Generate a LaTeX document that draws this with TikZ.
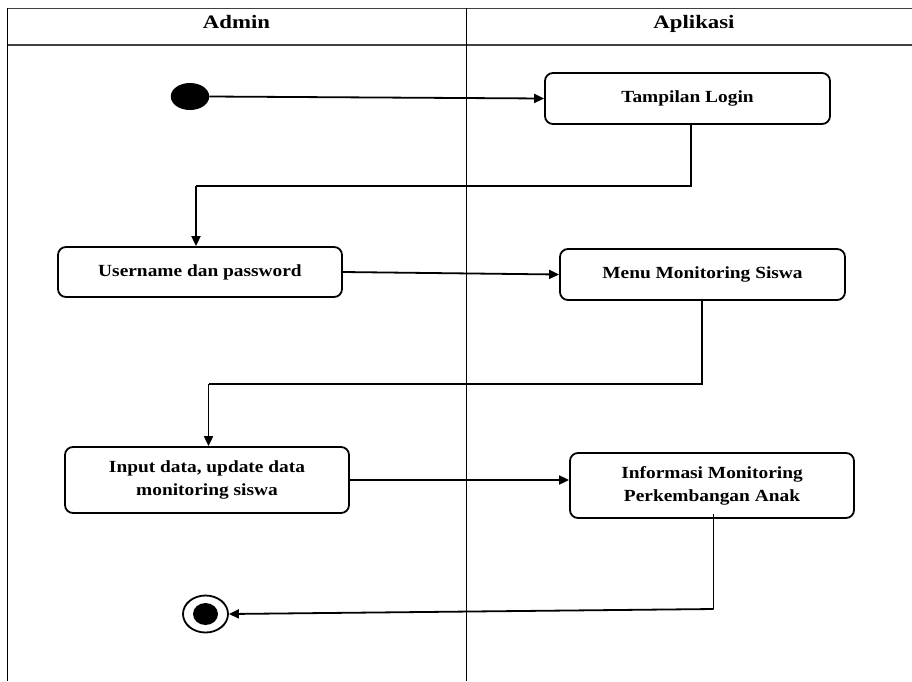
\documentclass[tikz,border=0pt]{standalone}
\usepackage{fontspec}
\setmainfont{Liberation Serif}
\newfontfamily\boxfont{Liberation Serif}[FakeStretch=1.14]
\newfontfamily\headfont{Liberation Serif}[FakeStretch=1.2]
\usetikzlibrary{arrows.meta,shapes.geometric,positioning}
\begin{document}
\begin{tikzpicture}[x=1pt,y=-1pt,
  lane/.style={draw=black,line width=0.9pt},
  headline/.style={draw=black!75,line width=1.6pt},
  headtext/.style={font=\headfont\bfseries\fontsize{19}{23}\selectfont,inner sep=0pt,anchor=base},
  activity/.style={draw=black,line width=1.8pt,rounded corners=8pt,align=center,
    font=\boxfont\bfseries\fontsize{17}{23}\selectfont,inner sep=0pt},
  flow/.style={draw=black,line width=1.8pt,-{Triangle[length=10pt,width=9pt]}},
  link/.style={draw=black,line width=1.8pt}]
\useasboundingbox (0,0) rectangle (912,681);
% swimlane frame
\draw[headline] (7,8.5) -- (912,8.5);
\draw[headline] (7,45) -- (912,45);
\draw[lane] (7,8) -- (7,681);
\draw[lane] (466,8) -- (466,681);
\node[headtext] (hAdmin) at (236.5,28) {Admin};
\node[headtext] (hApp) at (694,28) {Aplikasi};
% nodes
\node[ellipse,fill=black,minimum width=38.5pt,minimum height=27pt,inner sep=0pt] (start) at (190,96.5) {};
\node[activity,minimum width=285pt,minimum height=51pt] (login) at (687.5,98.5) {Tampilan Login};
\node[activity,minimum width=284pt,minimum height=50pt] (user) at (200,272) {Username dan password};
\node[activity,minimum width=285pt,minimum height=51pt] (menu) at (702.5,274.5) {Menu Monitoring Siswa};
\node[activity,minimum width=284pt,minimum height=66pt] (input) at (207,480) {Input data, update data\\monitoring siswa};
\node[activity,minimum width=284pt,minimum height=65pt] (info) at (712,485.5) {Informasi Monitoring\\Perkembangan Anak};
\node[ellipse,draw=black,line width=1.8pt,fill=white,minimum width=45pt,minimum height=37pt,inner sep=0pt] (endo) at (205.5,614) {};
\node[ellipse,fill=black,minimum width=25pt,minimum height=22pt,inner sep=0pt] (endi) at (205.5,614) {};
% bend points
\coordinate (b1) at (691,186);
\coordinate (b2) at (196,186);
\coordinate (b3) at (702,384);
\coordinate (b4) at (208.5,384);
\coordinate (b5) at (713.5,609);
% connectors
\draw[flow] (start.east) -- (login.west);
\draw[link] (login.south -| b1) -- (b1) -- (b2);
\draw[flow] (b2) -- (b2 |- user.north);
\draw[flow] (user.east) -- (menu.west);
\draw[link] ([yshift=2pt]menu.south -| b3) -- (b3) -- (b4);
\draw[flow] (b4) -- (b4 |- input.north);
\draw[flow] (input.east) -- (input.east -| info.west);
\draw[link] ([yshift=5pt]info.south -| b5) -- (b5);
\draw[flow] (b5) -- (endo.east);
\end{tikzpicture}
\end{document}
